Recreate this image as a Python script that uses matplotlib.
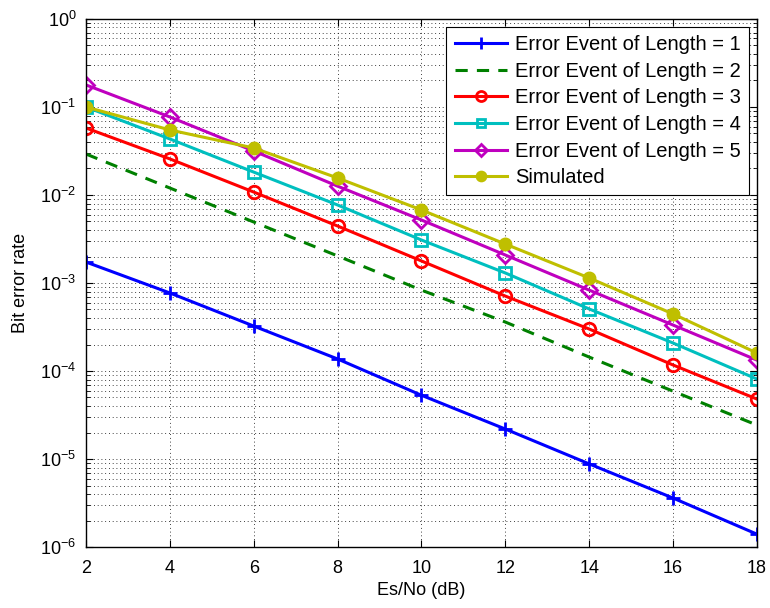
import numpy as np
import matplotlib
matplotlib.use("Agg")
import matplotlib.pyplot as plt
from matplotlib.ticker import LogLocator, NullFormatter

plt.rcParams['font.family'] = ['Liberation Sans', 'DejaVu Sans']
plt.rcParams['mathtext.fontset'] = 'custom'
plt.rcParams['mathtext.rm'] = 'Liberation Sans'
plt.rcParams['mathtext.it'] = 'Liberation Sans'

esno = [2, 4, 6, 8, 10, 12, 14, 16, 18]
len1 = [1.73e-3, 7.7e-4, 3.24e-4, 1.37e-4, 5.3e-5, 2.19e-5, 8.8e-6, 3.6e-6, 1.4e-6]
len2 = [2.92e-2, 1.2e-2, 4.93e-3, 2.03e-3, 8.3e-4, 3.6e-4, 1.44e-4, 5.9e-5, 2.43e-5]
len3 = [5.77e-2, 2.57e-2, 1.08e-2, 4.44e-3, 1.78e-3, 7.1e-4, 3.0e-4, 1.17e-4, 4.8e-5]
len4 = [1.0e-1, 4.33e-2, 1.82e-2, 7.7e-3, 3.08e-3, 1.3e-3, 5.07e-4, 2.08e-4, 8.1e-5]
len5 = [1.78e-1, 7.7e-2, 3.16e-2, 1.26e-2, 5.2e-3, 2.08e-3, 8.3e-4, 3.33e-4, 1.33e-4]
sim = [1.0e-1, 5.48e-2, 3.42e-2, 1.56e-2, 6.76e-3, 2.77e-3, 1.14e-3, 4.45e-4, 1.6e-4]
yticks = [1e-6, 1e-5, 1e-4, 1e-3, 1e-2, 1e-1, 1e0]

labels = ['Error Event of Length = 1', 'Error Event of Length = 2',
          'Error Event of Length = 3', 'Error Event of Length = 4',
          'Error Event of Length = 5', 'Simulated']

fig = plt.figure(figsize=(7.7, 6.08), dpi=100)
ax = fig.add_axes([0.1117, 0.1003, 0.8713, 0.8685])

lw = 2.2
mew = 2
ax.semilogy(esno, len1, '-', color='#0000ff', marker='+', ms=10, mew=mew, lw=lw, label=labels[0])
ax.semilogy(esno, len2, '--', color='#008000', lw=lw, dashes=(4, 3), label=labels[1])
ax.semilogy(esno, len3, '-', color='#ff0000', marker='o', ms=9, mfc='none', mew=mew, lw=lw, label=labels[2])
ax.semilogy(esno, len4, '-', color='#00bfbf', marker='s', ms=8, mfc='none', mew=mew, lw=lw, label=labels[3])
ax.semilogy(esno, len5, '-', color='#bf00bf', marker='D', ms=8, mfc='none', mew=mew, lw=lw, label=labels[4])
ax.semilogy(esno, sim, '-', color='#bfbf00', marker='o', ms=8, mfc='#bfbf00', mew=mew, lw=lw, label=labels[5])

ax.set_xlim(2, 18)
ax.set_xticks(esno)
ax.set_yticks(yticks)
ax.yaxis.set_minor_locator(LogLocator(base=10, subs=np.arange(2, 10), numticks=100))
ax.yaxis.set_minor_formatter(NullFormatter())
ax.set_ylim(1e-6, 1e0)

ax.grid(True, which='major', axis='both', linestyle=(0, (1, 3.5)), color='black', lw=0.6)
ax.grid(True, which='minor', axis='y', linestyle=(0, (1, 3.5)), color='black', lw=0.6)

ax.tick_params(which='both', direction='in', top=True, right=True, labelsize=13)
ax.tick_params(which='major', length=5, pad=7)
ax.tick_params(axis='x', which='major', pad=9)
ax.tick_params(which='minor', length=3)
for s in ax.spines.values():
    s.set_linewidth(1.0)

ax.set_xlabel('Es/No (dB)', fontsize=13, labelpad=4)
ax.set_ylabel('Bit error rate', fontsize=13, labelpad=8)

leg = ax.legend(loc='upper right', fontsize=14.5, frameon=True, fancybox=False,
                edgecolor='black', framealpha=1, handlelength=2.6, borderaxespad=0.4,
                labelspacing=0.38, handletextpad=0.4, borderpad=0.4, markerscale=0.8)
leg.get_frame().set_linewidth(0.8)

fig.savefig('out.png', dpi=100)
